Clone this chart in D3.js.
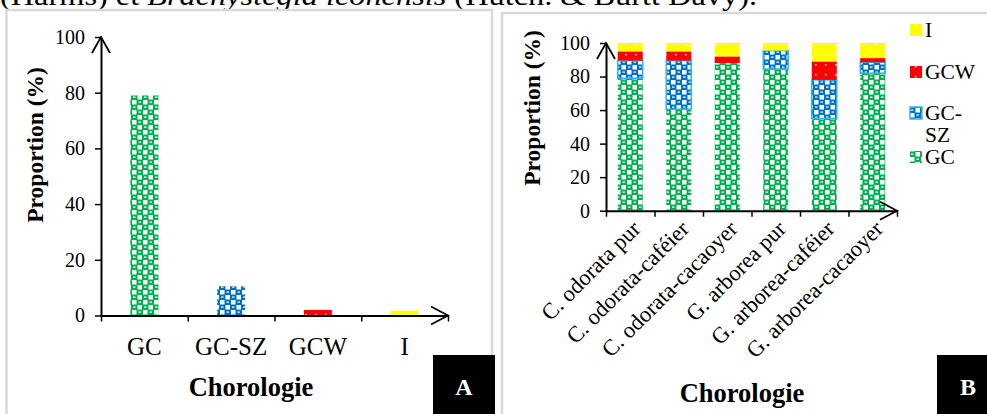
<!DOCTYPE html>
<html>
<head>
<meta charset="utf-8">
<script src="https://cdn.jsdelivr.net/npm/d3@7"></script>
<style>
  body { margin: 0; background: #fff; }
  svg { display: block; font-family: "Liberation Serif", "Times New Roman", serif; }
</style>
</head>
<body>
<div id="chart"></div>
<script>
// Panel A data
var catsA = ["GC", "GC-SZ", "GCW", "I"];
var valsA = [79, 10.5, 2, 1.7];

// Panel B data (stacked)
var catsB = ["C. odorata pur", "C. odorata-caféier", "C. odorata-cacaoyer",
             "G. arborea pur", "G. arborea-caféier", "G. arborea-cacaoyer"];
var gcB   = [79, 60.5, 88, 84.5, 55, 82];
var gcszB = [10.5, 29, 0, 11, 23, 6.5];
var gcwB  = [5.5, 5.5, 4, 0, 11, 2.5];
var iB    = [5, 5, 8, 4.5, 11, 9];
var seriesNames = ["GC", "GC-SZ", "GCW", "I"];
var yTicks = [0, 20, 40, 60, 80, 100];

var svg = d3.select("#chart").append("svg")
    .attr("width", 987)
    .attr("height", 414);

// patterns
var defs = svg.append("defs");
function checker(id, col) {
    var p = defs.append("pattern").attr("id", id)
        .attr("patternUnits", "userSpaceOnUse")
        .attr("width", 11).attr("height", 10);
    p.append("rect").attr("width", 11).attr("height", 10).attr("fill", col);
    p.append("rect").attr("x", 0).attr("y", 0).attr("width", 4.5).attr("height", 4.5).attr("fill", "#fff");
    p.append("rect").attr("x", 5.5).attr("y", 5).attr("width", 4.5).attr("height", 4.5).attr("fill", "#fff");
    p.append("rect").attr("x", 6.5).attr("y", 1.5).attr("width", 2.5).attr("height", 1.2).attr("fill", "#fff");
    p.append("rect").attr("x", 1).attr("y", 6.5).attr("width", 2.5).attr("height", 1.2).attr("fill", "#fff");
}
function dotted(id, col) {
    var p = defs.append("pattern").attr("id", id)
        .attr("patternUnits", "userSpaceOnUse")
        .attr("width", 10).attr("height", 10);
    p.append("rect").attr("width", 10).attr("height", 10).attr("fill", col);
    p.append("rect").attr("x", 5).attr("y", 4).attr("width", 1.5).attr("height", 1.5).attr("fill", "#fff");
}
checker("pGC", "#00b050");
checker("pSZ", "#0070c0");
dotted("pW", "#ff0000");
dotted("pI", "#ffff00");
var fills = {"GC": "url(#pGC)", "GC-SZ": "url(#pSZ)", "GCW": "url(#pW)", "I": "url(#pI)"};

// top caption (cut off)
var cap = svg.append("text").attr("x", 0).attr("y", 5)
    .attr("font-size", 28).attr("textLength", 757).attr("lengthAdjust", "spacingAndGlyphs");
cap.append("tspan").text("(Harms) et ");
cap.append("tspan").attr("font-style", "italic").text("Brachystegia leonensis");
cap.append("tspan").text(" (Hutch. & Burtt Davy).");

// panel frames
svg.append("rect").attr("x", 6.5).attr("y", 10).attr("width", 485.5).attr("height", 420)
    .attr("fill", "none").attr("stroke", "#d9d9d9").attr("stroke-width", 2.5);
svg.append("rect").attr("x", 502).attr("y", 13).attr("width", 500).attr("height", 420)
    .attr("fill", "none").attr("stroke", "#d9d9d9").attr("stroke-width", 2.5);

function arrows(g, x0, y0, x1, y1) {
    g.append("path").attr("d", `M${x0 - 9},${y1 + 16}L${x0},${y1}L${x0 + 9},${y1 + 16}`)
        .attr("fill", "none").attr("stroke", "#000").attr("stroke-width", 1.8);
    g.append("path").attr("d", `M${x1 - 17},${y0 - 9}L${x1},${y0}L${x1 - 17},${y0 + 9}`)
        .attr("fill", "none").attr("stroke", "#000").attr("stroke-width", 1.8);
}

// ---------- Panel A ----------
var gA = svg.append("g");
var xA = d3.scaleBand().domain(catsA).range([101, 448]).padding(0);
var xAlin = d3.scaleLinear().domain([0, catsA.length]).range([101, 448]);
var yA = d3.scaleLinear().domain([0, 100]).range([315.5, 37]);
var bwA = 28;

gA.selectAll("rect.bar").data(catsA).enter().append("rect")
    .attr("x", d => xA(d) + xA.bandwidth() / 2 - bwA / 2)
    .attr("y", (d, i) => yA(valsA[i]))
    .attr("width", bwA)
    .attr("height", (d, i) => yA(0) - yA(valsA[i]))
    .attr("fill", d => fills[d]);

var yAxA = gA.append("g").attr("transform", "translate(101,0)")
    .call(d3.axisLeft(yA).tickValues(yTicks).tickSize(6).tickSizeOuter(0).tickPadding(10));
var xAxA = gA.append("g").attr("transform", `translate(0,${yA(0)})`)
    .call(d3.axisBottom(xAlin).tickValues(d3.range(catsA.length + 1)).tickSize(6).tickSizeOuter(0).tickFormat(""));
[yAxA, xAxA].forEach(function (ax) {
    ax.select(".domain").attr("stroke-width", 2);
    ax.selectAll(".tick line").attr("stroke-width", 1.5);
    ax.selectAll("text").attr("font-size", 20).attr("font-family", "Liberation Serif").attr("fill", "#000");
});
arrows(gA, 101, yA(0), 448, yA(100));

gA.selectAll("text.xl").data(catsA).enter().append("text")
    .attr("x", d => xA(d) + xA.bandwidth() / 2)
    .attr("y", 355)
    .attr("text-anchor", "middle")
    .attr("font-size", 25)
    .text(d => d);

gA.append("text").attr("x", 251).attr("y", 396).attr("text-anchor", "middle")
    .attr("font-size", 26.5).attr("font-weight", "bold").text("Chorologie");
gA.append("text").attr("transform", "translate(43,145) rotate(-90)")
    .attr("text-anchor", "middle").attr("font-size", 23.5).attr("font-weight", "bold")
    .text("Proportion (%)");

gA.append("rect").attr("x", 433).attr("y", 355).attr("width", 62).attr("height", 60).attr("fill", "#000");
gA.append("text").attr("x", 464).attr("y", 395).attr("text-anchor", "middle")
    .attr("fill", "#fff").attr("font-size", 24).attr("font-weight", "bold").text("A");

// ---------- Panel B ----------
var gB = svg.append("g");
var xB = d3.scaleBand().domain(catsB).range([606, 897]).padding(0);
var xBlin = d3.scaleLinear().domain([0, catsB.length]).range([606, 897]);
var yB = d3.scaleLinear().domain([0, 100]).range([210.7, 43]);
var bwB = 25;

var rows = catsB.map(function (c, i) {
    return {cat: c, "GC": gcB[i], "GC-SZ": gcszB[i], "GCW": gcwB[i], "I": iB[i]};
});
var stack = d3.stack().keys(seriesNames)(rows);

gB.selectAll("g.layer").data(stack).enter().append("g")
    .each(function (layer) {
        d3.select(this).selectAll("rect").data(layer.filter(d => d[1] - d[0] > 0)).enter().append("rect")
            .attr("x", d => xB(d.data.cat) + xB.bandwidth() / 2 - bwB / 2)
            .attr("y", d => yB(d[1]))
            .attr("width", bwB)
            .attr("height", d => yB(d[0]) - yB(d[1]))
            .attr("fill", fills[layer.key])
            .attr("stroke", layer.key === "GC-SZ" ? "#2fb4ef" : "none")
            .attr("stroke-width", 1.5);
    });

var yAxB = gB.append("g").attr("transform", "translate(606,0)")
    .call(d3.axisLeft(yB).tickValues(yTicks).tickSize(6).tickSizeOuter(0).tickPadding(10));
var xAxB = gB.append("g").attr("transform", `translate(0,${yB(0)})`)
    .call(d3.axisBottom(xBlin).tickValues(d3.range(catsB.length + 1)).tickSize(6).tickSizeOuter(0).tickFormat(""));
[yAxB, xAxB].forEach(function (ax) {
    ax.select(".domain").attr("stroke-width", 2);
    ax.selectAll(".tick line").attr("stroke-width", 1.5);
    ax.selectAll("text").attr("font-size", 20).attr("font-family", "Liberation Serif").attr("fill", "#000");
});
arrows(gB, 606, yB(0), 897, yB(100));

gB.selectAll("text.xl").data(catsB).enter().append("text")
    .attr("transform", d => `translate(${xB(d) + xB.bandwidth() / 2 + 6},${yB(0) + 14}) rotate(-45)`)
    .attr("text-anchor", "end")
    .attr("dy", "0.35em")
    .attr("font-size", 22.5)
    .text(d => d);

gB.append("text").attr("x", 742).attr("y", 402).attr("text-anchor", "middle")
    .attr("font-size", 26.5).attr("font-weight", "bold").text("Chorologie");
gB.append("text").attr("transform", "translate(540,108) rotate(-90)")
    .attr("text-anchor", "middle").attr("font-size", 23.5).attr("font-weight", "bold")
    .text("Proportion (%)");

// legend (reverse order)
var legY = {"I": 30, "GCW": 72, "GC-SZ": 113, "GC": 157};
var leg = gB.selectAll("g.leg").data(seriesNames.slice().reverse()).enter().append("g")
    .attr("transform", d => `translate(910,${legY[d]})`);
leg.append("rect").attr("x", 0).attr("y", -6).attr("width", 12).attr("height", 12)
    .attr("fill", d => fills[d])
    .attr("stroke", d => d === "GC-SZ" ? "#2fb4ef" : "none").attr("stroke-width", 1.5);
leg.append("text").attr("x", 15).attr("y", 7).attr("font-size", 21.5)
    .each(function (d) {
        var t = d3.select(this);
        if (d === "GC-SZ") {
            t.append("tspan").attr("x", 15).text("GC-");
            t.append("tspan").attr("x", 15).attr("dy", 22).text("SZ");
        } else {
            t.text(d);
        }
    });

gB.append("rect").attr("x", 937).attr("y", 355).attr("width", 50).attr("height", 60).attr("fill", "#000");
gB.append("text").attr("x", 968).attr("y", 395).attr("text-anchor", "middle")
    .attr("fill", "#fff").attr("font-size", 24).attr("font-weight", "bold").text("B");
</script>
</body>
</html>
